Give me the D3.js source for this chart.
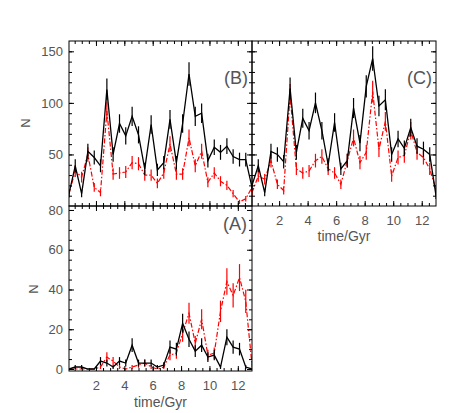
<!DOCTYPE html>
<html>
<head>
<meta charset="utf-8">
<script src="https://cdn.jsdelivr.net/npm/d3@7"></script>
<style>
  body { margin: 0; background: #fff; }
  text { font-family: "Liberation Sans", Arial, sans-serif; fill: #555; }
</style>
</head>
<body>
<div id="chart"></div>
<script>
(function () {
  // bin centres, Gyr
  const times = [0.10, 0.54, 0.99, 1.43, 1.88, 2.32, 2.77, 3.21, 3.66, 4.10,
    4.55, 5.00, 5.44, 5.89, 6.33, 6.78, 7.22, 7.67, 8.11, 8.56,
    9.00, 9.45, 9.89, 10.34, 10.78, 11.23, 11.67, 12.12, 12.56, 13.00];

  const bBlack = [12, 39, 12, 53, 47, 39, 113, 50, 80, 68, 87, 69, 36, 79, 35,
    42, 84, 42, 80, 128, 87, 90, 44, 57, 52, 58, 48, 45, 45, 18];
  const bRed = [12, 34, 28, 50, 18, 13, 92, 31, 32, 33, 42, 41, 30, 30, 22,
    32, 60, 31, 31, 66, 39, 53, 23, 32, 24, 20, 12, 4, 7, 18];

  const cBlack = [20, 39, 13, 53, 50, 43, 114, 52, 85, 73, 100, 73, 40, 81, 36,
    44, 95, 61, 116, 143, 97, 103, 50, 65, 56, 76, 58, 55, 50, 10];
  const cRed = [13, 29, 26, 44, 21, 15, 108, 36, 32, 34, 44, 48, 36, 32, 21,
    44, 66, 42, 52, 111, 55, 82, 29, 47, 49, 73, 52, 47, 36, 16];

  const aBlack = [0, 1, 1, 0, 0, 4, 3, 1, 4, 3, 12, 3, 3, 3, 1,
    2, 11, 10, 23, 15, 9, 12, 6, 7, 1, 16, 11, 10, 1, 0];
  const aRed = [0, 0, 0, 0, 0, 1, 6, 4, 1, 0, 1, 2, 3, 1, 0,
    1, 7, 8, 18, 28, 13, 25, 7, 8, 29, 44, 37, 46, 34, 2];

  const xTicks = [2, 4, 6, 8, 10, 12];
  const yTicksTop = [50, 100, 150];
  const yTicksA = [0, 20, 40, 60, 80];

  const width = 458;
  const height = 413;

  let svg = d3
    .select('#chart')
    .append('svg')
    .attr('width', width)
    .attr('height', height);

  svg.append('rect').attr('width', width).attr('height', height).attr('fill', '#fff');

  let panels = [
    {
      id: 'B', x: [69, 252], y: [206, 41], yDomain: [0, 160],
      yTicks: yTicksTop, yMinor: d3.range(10, 160, 10),
      black: bBlack, red: bRed,
      xLabels: false, yLabels: true, tag: [248, 84], nPos: [25, 123]
    },
    {
      id: 'C', x: [252, 436], y: [206, 41], yDomain: [0, 160],
      yTicks: yTicksTop, yMinor: d3.range(10, 160, 10),
      black: cBlack, red: cRed,
      xLabels: true, yLabels: false, tag: [432, 84], xTitle: 236
    },
    {
      id: 'A', x: [69, 252], y: [371, 206], yDomain: [-1, 82],
      yTicks: yTicksA, yMinor: d3.range(0, 82, 5),
      black: aBlack, red: aRed,
      xLabels: true, yLabels: true, tag: [247, 230], nPos: [33, 289], xTitle: 402
    }
  ];

  panels.forEach(drawPanel);

  function drawPanel(p) {
    let xscale = d3.scaleLinear().domain([0.1, 13]).range(p.x);
    let yscale = d3.scaleLinear().domain(p.yDomain).range(p.y);
    let g = svg.append('g');
    let xMinor = d3.range(0.5, 13, 0.5);

    let clipId = 'clip' + p.id;
    svg
      .append('clipPath')
      .attr('id', clipId)
      .append('rect')
      .attr('x', p.x[0])
      .attr('y', p.y[1])
      .attr('width', p.x[1] - p.x[0])
      .attr('height', p.y[0] - p.y[1]);

    let plot = g.append('g').attr('clip-path', `url(#${clipId})`);

    drawSeries(plot, p.red, xscale, yscale, '#ff0000', '5,2,1.5,2', 1.2);
    drawSeries(plot, p.black, xscale, yscale, '#000', null, 1.3);

    // axes, ticks pointing inward on all four sides
    let axes = [
      { axis: d3.axisBottom, at: `translate(0, ${p.y[0]})`, scale: xscale, major: xTicks, minor: xMinor, lab: p.xLabels },
      { axis: d3.axisTop, at: `translate(0, ${p.y[1]})`, scale: xscale, major: xTicks, minor: xMinor, lab: false },
      { axis: d3.axisLeft, at: `translate(${p.x[0]}, 0)`, scale: yscale, major: p.yTicks, minor: p.yMinor, lab: p.yLabels },
      { axis: d3.axisRight, at: `translate(${p.x[1]}, 0)`, scale: yscale, major: p.yTicks, minor: p.yMinor, lab: false }
    ];

    axes.forEach((a) => {
      let minorG = g
        .append('g')
        .attr('transform', a.at)
        .call(a.axis(a.scale).tickValues(a.minor).tickSize(-3).tickFormat(''));
      let majorG = g
        .append('g')
        .attr('transform', a.at)
        .call(
          a.axis(a.scale)
            .tickValues(a.major)
            .tickSize(-5)
            .tickPadding(a.axis === d3.axisBottom ? 10 : 6)
            .tickFormat(a.lab ? d3.format('d') : '')
        );
      [minorG, majorG].forEach((ax) => {
        ax.select('.domain').remove();
        ax.selectAll('line').attr('stroke', '#000').attr('stroke-width', 1);
        ax.attr('font-size', null).attr('font-family', null);
        ax.selectAll('text').attr('font-size', 13).attr('fill', '#555');
      });
    });

    g.append('rect')
      .attr('x', p.x[0])
      .attr('y', p.y[1])
      .attr('width', p.x[1] - p.x[0])
      .attr('height', p.y[0] - p.y[1])
      .attr('fill', 'none')
      .attr('stroke', '#000')
      .attr('stroke-width', 1);

    g.append('text')
      .attr('x', p.tag[0])
      .attr('y', p.tag[1])
      .attr('text-anchor', 'end')
      .attr('font-size', 18)
      .text(`(${p.id})`);

    if (p.nPos) {
      g.append('text')
        .attr('transform', `translate(${p.nPos[0]}, ${p.nPos[1]}) rotate(-90)`)
        .attr('text-anchor', 'middle')
        .attr('dy', '0.35em')
        .attr('font-size', 13)
        .text('N');
    }

    if (p.xTitle) {
      g.append('text')
        .attr('x', (p.x[0] + p.x[1]) / 2)
        .attr('y', p.xTitle)
        .attr('text-anchor', 'middle')
        .attr('dy', '0.35em')
        .attr('font-size', 14)
        .text('time/Gyr');
    }
  }

  function drawSeries(plot, values, xscale, yscale, color, dash, lw) {
    let pts = values.map((v, i) => ({ t: times[i], n: v }));

    let line = d3
      .line()
      .x((d) => xscale(d.t))
      .y((d) => yscale(d.n));

    plot
      .append('path')
      .datum(pts)
      .attr('d', line)
      .attr('fill', 'none')
      .attr('stroke', color)
      .attr('stroke-width', lw)
      .attr('stroke-dasharray', dash);

    // Poisson error bars
    plot
      .selectAll(null)
      .data(pts.filter((d) => d.n > 0))
      .enter()
      .append('line')
      .attr('x1', (d) => xscale(d.t))
      .attr('x2', (d) => xscale(d.t))
      .attr('y1', (d) => yscale(d.n - Math.sqrt(d.n)))
      .attr('y2', (d) => yscale(d.n + Math.sqrt(d.n)))
      .attr('stroke', color)
      .attr('stroke-width', 1.2);
  }
})();
</script>
</body>
</html>
